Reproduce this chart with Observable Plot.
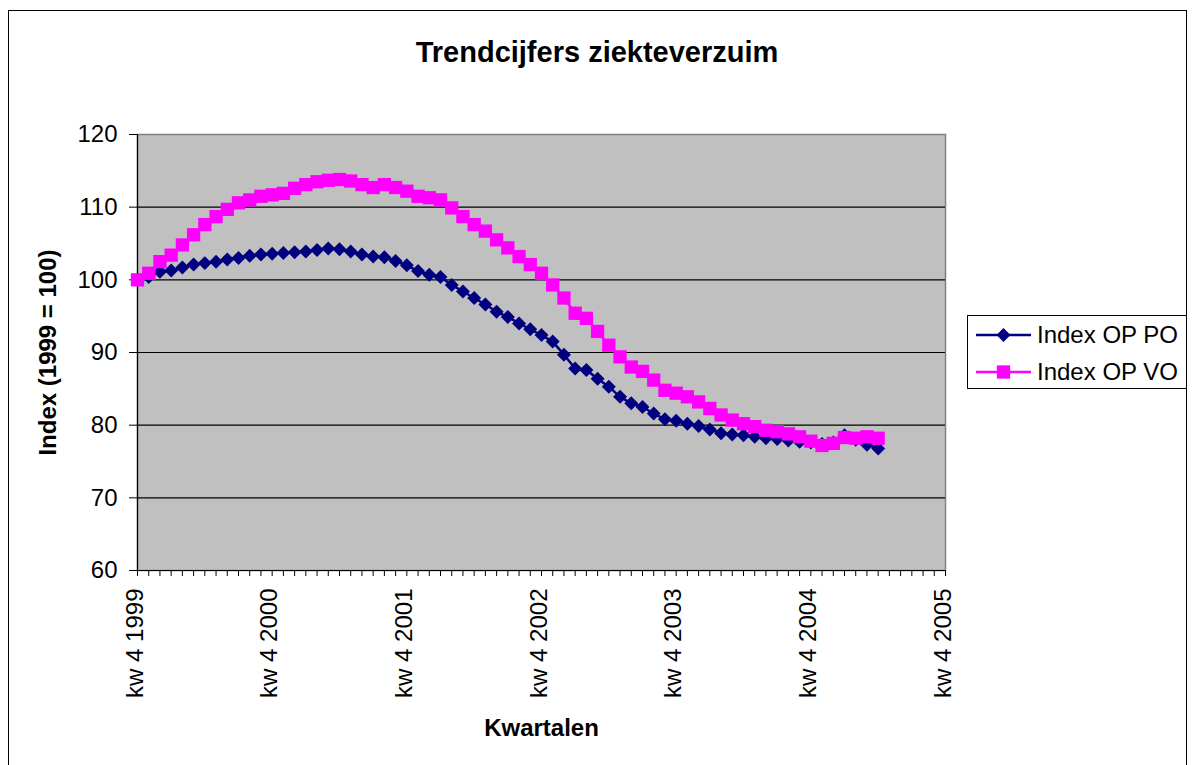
<!DOCTYPE html>
<html>
<head>
<meta charset="utf-8">
<script src="https://cdn.jsdelivr.net/npm/d3@7"></script>
<script src="https://cdn.jsdelivr.net/npm/@observablehq/plot@0.6"></script>
<style>
  body { margin: 0; background: #fff; }
  #wrap { position: relative; width: 1194px; height: 765px; overflow: hidden; background: #fff;
          font-family: "Liberation Sans", Arial, sans-serif; color: #000; }
  #frame { position: absolute; left: 8px; top: 10px; width: 1179px; height: 800px; border: 1px solid #000; box-sizing: border-box; }
  #title { position: absolute; left: 0; top: 34px; width: 1194px; text-align: center; font-weight: bold; font-size: 29px; line-height: 36px; }
  #chart { position: absolute; left: 0; top: 0; }
  #legend { position: absolute; left: 967px; top: 315px; width: 220px; height: 74px; border: 1px solid #000; box-sizing: border-box; background: #fff; }
  .item { position: absolute; left: 6px; height: 30px; display: flex; align-items: center; font-size: 24px; white-space: nowrap; }
  .item svg { margin-right: 6px; }
</style>
</head>
<body>
<div id="wrap">
  <div id="frame"></div>
  <div id="title">Trendcijfers ziekteverzuim</div>
  <div id="chart"></div>
  <div id="legend"></div>
</div>
<script>
// ---- data ----
const seriesNames = ["Index OP PO", "Index OP VO"];
const seriesColors = ["#000080", "#FF00FF"];
// Index OP PO (one value per category, categories 0..66)
const indexPO = [
  100.0, 100.4, 101.1, 101.3, 101.7, 102.1, 102.3, 102.5, 102.8, 103.0,
  103.3, 103.5, 103.6, 103.7, 103.8, 103.9, 104.1, 104.3, 104.2, 103.9,
  103.5, 103.2, 103.1, 102.6, 102.0, 101.2, 100.7, 100.4, 99.3, 98.4,
  97.5, 96.6, 95.6, 94.9, 94.0, 93.2, 92.4, 91.5, 89.7, 87.8,
  87.6, 86.4, 85.3, 83.9, 83.0, 82.5, 81.6, 80.8, 80.6, 80.2,
  79.9, 79.4, 78.9, 78.7, 78.6, 78.4, 78.2, 78.1, 77.9, 77.7,
  77.6, 77.4, 77.6, 78.6, 78.0, 77.3, 76.8
];
// Index OP VO
const indexVO = [
  100.0, 100.9, 102.5, 103.4, 104.8, 106.2, 107.6, 108.7, 109.7, 110.6,
  111.0, 111.5, 111.7, 111.9, 112.6, 113.1, 113.5, 113.7, 113.8, 113.6,
  113.1, 112.7, 113.1, 112.7, 112.2, 111.5, 111.3, 111.0, 109.9, 108.7,
  107.6, 106.7, 105.5, 104.4, 103.2, 102.1, 100.9, 99.3, 97.5, 95.4,
  94.7, 92.9, 91.0, 89.4, 88.0, 87.4, 86.2, 84.8, 84.4, 83.9,
  83.2, 82.3, 81.4, 80.7, 80.2, 79.8, 79.3, 79.1, 78.8, 78.4,
  77.8, 77.2, 77.5, 78.3, 78.2, 78.4, 78.2
];
const categoryCount = 73; // categories 0..72 on the axis
const tickLabels = ["kw 4 1999", "kw 4 2000", "kw 4 2001", "kw 4 2002", "kw 4 2003", "kw 4 2004", "kw 4 2005"];
const tickLabelPositions = [0, 12, 24, 36, 48, 60, 72];
const yTicks = [60, 70, 80, 90, 100, 110, 120];
const gridValues = [70, 80, 90, 100, 110];

const FONT = '"Liberation Sans", Arial, sans-serif';
const rowsPO = indexPO.map((v, i) => ({i, v}));
const rowsVO = indexVO.map((v, i) => ({i, v}));
const labelRows = tickLabels.map((t, k) => ({i: tickLabelPositions[k], t}));

const chart = Plot.plot({
  width: 1194,
  height: 765,
  marginLeft: 137,
  marginRight: 249,
  marginTop: 134,
  marginBottom: 195,
  style: {fontFamily: FONT, background: "transparent", color: "#000"},
  x: {domain: [0, categoryCount - 1], axis: null},
  y: {domain: [60, 120], axis: null},
  marks: [
    Plot.frame({fill: "#C0C0C0", stroke: "#808080", strokeWidth: 1.5}),
    Plot.ruleY(gridValues, {stroke: "#000", strokeWidth: 1.2}),
    Plot.ruleX([0], {stroke: "#000", strokeWidth: 1.2}),
    Plot.ruleY([60], {stroke: "#000", strokeWidth: 1.2}),
    Plot.axisX({ticks: d3.range(categoryCount), tickSize: 6, tickFormat: () => "", stroke: "#000", label: null}),
    Plot.axisY({ticks: yTicks, tickSize: 8, tickPadding: 12, fontSize: 24, stroke: "#000", label: null, tickFormat: d => String(d)}),
    Plot.text(labelRows, {x: "i", text: "t", frameAnchor: "bottom", rotate: -90, textAnchor: "end", dy: 18, dx: 5, fontSize: 24, fill: "#000"}),
    Plot.text(["Index (1999 = 100)"], {frameAnchor: "left", rotate: -90, textAnchor: "middle", dx: -89, fontSize: 24, fontWeight: "bold", fill: "#000"}),
    Plot.text(["Kwartalen"], {frameAnchor: "bottom", dy: 165, fontSize: 24, fontWeight: "bold", fill: "#000"}),
    Plot.line(rowsPO, {x: "i", y: "v", stroke: seriesColors[0], strokeWidth: 2.5}),
    Plot.dot(rowsPO, {x: "i", y: "v", symbol: "diamond2", r: 6.3, fill: seriesColors[0], stroke: "none"}),
    Plot.line(rowsVO, {x: "i", y: "v", stroke: seriesColors[1], strokeWidth: 2.5}),
    Plot.dot(rowsVO, {x: "i", y: "v", symbol: "square", r: 7.5, fill: seriesColors[1], stroke: "none"})
  ]
});
document.getElementById("chart").appendChild(chart);

// legend
const legend = document.getElementById("legend");
const symbols = [d3.symbolDiamond2, d3.symbolSquare];
const sizes = [Math.PI * 6.3 * 6.3, Math.PI * 7.5 * 7.5];
seriesNames.forEach((name, k) => {
  const item = document.createElement("div");
  item.className = "item";
  item.style.top = (k === 0 ? 4 : 41) + "px";
  const svg = d3.create("svg").attr("width", 57).attr("height", 30);
  svg.append("line").attr("x1", 2).attr("x2", 57).attr("y1", 15).attr("y2", 15)
     .attr("stroke", seriesColors[k]).attr("stroke-width", 2.5);
  svg.append("path").attr("transform", "translate(29.5,15)")
     .attr("d", d3.symbol(symbols[k], sizes[k])()).attr("fill", seriesColors[k]);
  item.appendChild(svg.node());
  const span = document.createElement("span");
  span.textContent = name;
  item.appendChild(span);
  legend.appendChild(item);
});
</script>
</body>
</html>
